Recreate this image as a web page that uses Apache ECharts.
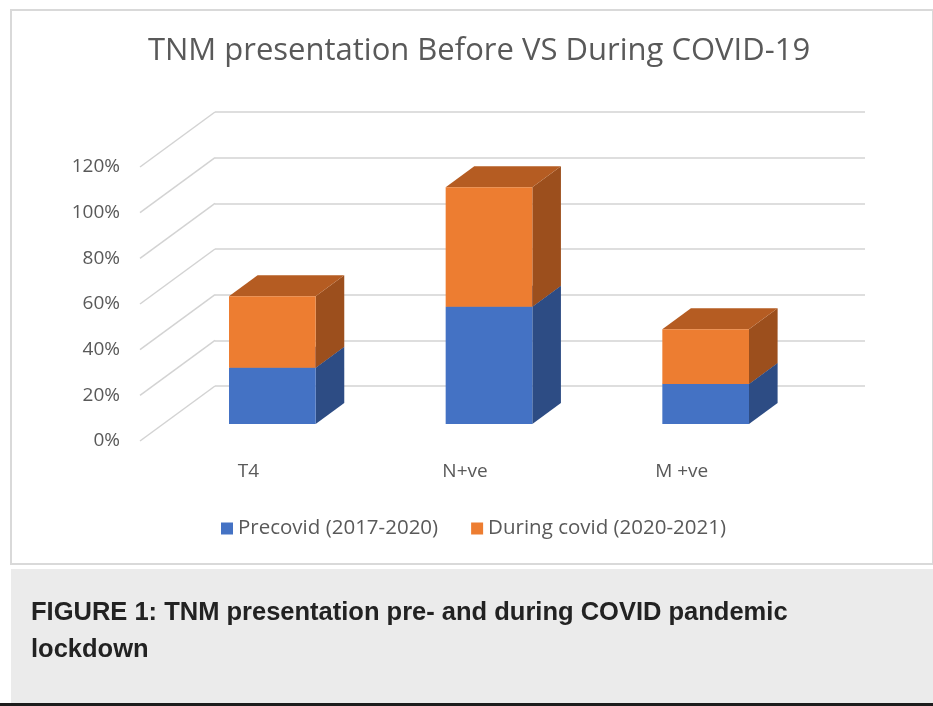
<!DOCTYPE html>
<html>
<head>
<meta charset="utf-8">
<script src="https://cdn.jsdelivr.net/npm/echarts@6/dist/echarts.min.js"></script>
<style>
  html, body { margin: 0; padding: 0; background: #fff; }
  #main { width: 933px; height: 706px; }
</style>
</head>
<body>
<div id="main"></div>
<script>
// data
var categories = ['T4', 'N+ve', 'M +ve'];
var precovid = [0.246, 0.513, 0.175];
var duringCovid = [0.314, 0.524, 0.24];
var yTicks = [0, 0.2, 0.4, 0.6, 0.8, 1.0, 1.2];

// oblique depth used by the 3d look
var DEPTH_X = 28.6, DEPTH_Y = 21;
var WALL_X = 75, WALL_Y = 55;

var preData = precovid.map(function (v, i) { return [i, 0, v]; });
var durData = duringCovid.map(function (v, i) { return [i, precovid[i], precovid[i] + v]; });

function boxRenderer(front, side, top) {
    return function (params, api) {
        var lo = api.coord([api.value(0), api.value(1)]);
        var hi = api.coord([api.value(0), api.value(2)]);
        var w = api.size([1, 0])[0] * 0.4;
        var x0 = lo[0] - w / 2, x1 = lo[0] + w / 2;
        var yb = lo[1], yt = hi[1];
        return {
            type: 'group',
            children: [{
                type: 'polygon',
                shape: { points: [[x1, yb], [x1 + DEPTH_X, yb - DEPTH_Y], [x1 + DEPTH_X, yt - DEPTH_Y], [x1, yt]] },
                style: { fill: side }
            }, {
                type: 'polygon',
                shape: { points: [[x0, yt], [x1, yt], [x1 + DEPTH_X, yt - DEPTH_Y], [x0 + DEPTH_X, yt - DEPTH_Y]] },
                style: { fill: top }
            }, {
                type: 'rect',
                shape: { x: x0, y: yt, width: w, height: yb - yt },
                style: { fill: front }
            }]
        };
    };
}

var textColor = '#595959';
var chartFont = 'Open Sans';

var option = {
    animation: false,
    backgroundColor: '#fff',
    textStyle: { fontFamily: chartFont },
    title: {
        text: 'TNM presentation Before VS During COVID-19',
        left: 474,
        textAlign: 'center',
        top: 31,
        textStyle: { color: textColor, fontSize: 31, fontWeight: 'normal', fontFamily: chartFont }
    },
    legend: {
        data: ['Precovid (2017-2020)', 'During covid (2020-2021)'],
        top: 513,
        left: 216,
        icon: 'rect',
        itemWidth: 12,
        itemHeight: 12,
        itemGap: 33,
        textStyle: { color: textColor, fontSize: 20.5, fontFamily: chartFont }
    },
    graphic: [{
        type: 'rect', z: -10,
        shape: { x: 11, y: 10, width: 922, height: 554 },
        style: { fill: '#fff', stroke: '#d9d9d9', lineWidth: 2 }
    }, {
        type: 'rect', z: -10,
        shape: { x: 11, y: 569, width: 922, height: 134 },
        style: { fill: '#ebebeb' }
    }, {
        type: 'rect', z: -10,
        shape: { x: 0, y: 703, width: 933, height: 3 },
        style: { fill: '#1c1c1c' }
    }, {
        type: 'text', left: 31, top: 594,
        style: {
            text: 'FIGURE 1: TNM presentation pre- and during COVID pandemic\nlockdown',
            fill: '#222', font: 'bold 25.5px "Liberation Sans", Arial, sans-serif',
            lineHeight: 37
        }
    }],
    grid: [
        // back wall
        { left: 215, right: 68, top: 112, bottom: 320 },
        // bar plane
        { left: 164, right: 119, top: 150, bottom: 282 },
        // front plane (labels)
        { left: 140, right: 143, top: 167, bottom: 265 }
    ],
    xAxis: [
        { gridIndex: 0, type: 'category', data: categories, show: false },
        { gridIndex: 1, type: 'category', data: categories, show: false },
        {
            gridIndex: 2, type: 'category', data: categories,
            axisLine: { show: false }, axisTick: { show: false },
            axisLabel: { color: textColor, fontSize: 19, margin: 21 }
        }
    ],
    yAxis: [
        {
            gridIndex: 0, type: 'value', min: 0, max: 1.2, interval: 0.2,
            axisLabel: { show: false }, axisLine: { show: false }, axisTick: { show: false },
            splitLine: { lineStyle: { color: '#d3d3d3', width: 1.5 } }
        },
        { gridIndex: 1, type: 'value', min: 0, max: 1.2, interval: 0.2, show: false, splitLine: { show: false } },
        {
            gridIndex: 2, type: 'value', min: 0, max: 1.2, interval: 0.2,
            axisLine: { show: false }, axisTick: { show: false }, splitLine: { show: false },
            axisLabel: {
                color: textColor, fontSize: 19, margin: 20,
                formatter: function (v) { return Math.round(v * 100) + '%'; }
            }
        }
    ],
    series: [{
        // diagonal floor/wall lines
        type: 'custom',
        xAxisIndex: 2, yAxisIndex: 2,
        silent: true,
        data: yTicks.map(function (v) { return [0, v]; }),
        renderItem: function (params, api) {
            var p = api.coord([0, api.value(1)]);
            var x = params.coordSys.x;
            return {
                type: 'line',
                shape: { x1: x, y1: p[1], x2: x + WALL_X, y2: p[1] - WALL_Y },
                style: { stroke: '#d3d3d3', lineWidth: 1.5 }
            };
        }
    }, {
        name: 'Precovid (2017-2020)',
        type: 'custom',
        xAxisIndex: 1, yAxisIndex: 1,
        itemStyle: { color: '#4472c4' },
        encode: { x: 0, y: [1, 2] },
        data: preData,
        renderItem: boxRenderer('#4472c4', '#2d4c84', '#3a62a8')
    }, {
        name: 'During covid (2020-2021)',
        type: 'custom',
        xAxisIndex: 1, yAxisIndex: 1,
        itemStyle: { color: '#ed7d31' },
        encode: { x: 0, y: [1, 2] },
        data: durData,
        renderItem: boxRenderer('#ed7d31', '#9c4f1d', '#b55c22')
    }]
};

var chart = echarts.init(document.getElementById('main'));
chart.setOption(option);
</script>
</body>
</html>
